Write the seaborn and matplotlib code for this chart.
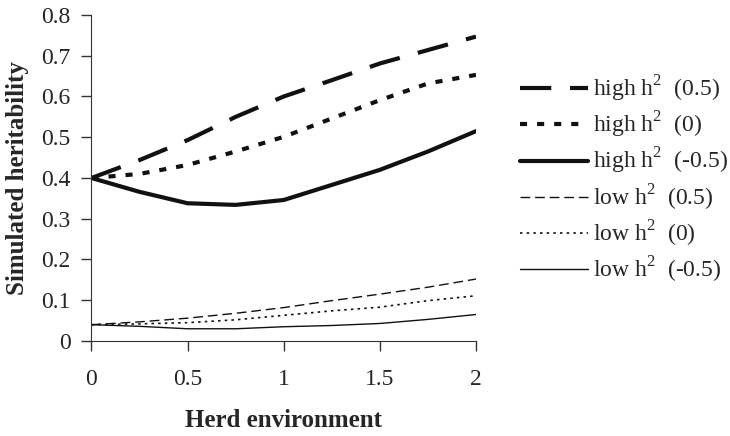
import pandas as pd
import matplotlib.pyplot as plt
import seaborn as sns

# herd environment (x) values
env = [0, 0.25, 0.5, 0.75, 1, 1.25, 1.5, 1.75, 2]

# simulated heritability
high_05 = [0.40, 0.444, 0.493, 0.550, 0.600, 0.640, 0.681, 0.714, 0.747]
high_0 = [0.40, 0.410, 0.432, 0.465, 0.501, 0.546, 0.591, 0.632, 0.653]
high_m05 = [0.40, 0.366, 0.338, 0.334, 0.346, 0.383, 0.420, 0.465, 0.515]
low_05 = [0.04, 0.047, 0.056, 0.068, 0.082, 0.099, 0.115, 0.132, 0.152]
low_0 = [0.04, 0.042, 0.045, 0.052, 0.063, 0.074, 0.083, 0.099, 0.111]
low_m05 = [0.04, 0.036, 0.030, 0.030, 0.035, 0.038, 0.043, 0.053, 0.065]

labels = ["high h$^2$  (0.5)", "high h$^2$  (0)", "high h$^2$  (-0.5)",
          "low h$^2$  (0.5)", "low h$^2$  (0)", "low h$^2$  (-0.5)"]

x_ticks = [0, 0.5, 1, 1.5, 2]
x_ticklabels = ["0", "0.5", "1", "1.5", "2"]
y_ticks = [0, 0.1, 0.2, 0.3, 0.4, 0.5, 0.6, 0.7, 0.8]
y_ticklabels = ["0", "0.1", "0.2", "0.3", "0.4", "0.5", "0.6", "0.7", "0.8"]


def main():
    sns.set_style("ticks")
    plt.rcParams['font.family'] = ['Liberation Serif', 'DejaVu Serif']
    plt.rcParams['mathtext.fontset'] = 'custom'
    plt.rcParams['mathtext.rm'] = 'Liberation Serif'

    series = [high_05, high_0, high_m05, low_05, low_0, low_m05]
    # (linewidth, linestyle)
    styles = [
        (3.0, (0, (7.5, 4.5))),
        (3.0, (0, (1.7, 2.4))),
        (3.0, "-"),
        (1.0, (0, (7, 3.5))),
        (1.2, (0, (1.5, 2.5))),
        (1.0, "-"),
    ]

    fig = plt.figure(figsize=(7.3, 4.36), dpi=100)
    ax = fig.add_axes([0.1253, 0.2179, 0.5267, 0.7477])

    for vals, lab, (lw, ls) in zip(series, labels, styles):
        df = pd.DataFrame({"env": env, "h2": vals})
        sns.lineplot(data=df, x="env", y="h2", ax=ax, color="#111111",
                     linewidth=lw, linestyle=ls, label=lab)

    ax.set_xlim(0, 2)
    ax.set_ylim(0, 0.8)
    ax.set_xticks(x_ticks)
    ax.set_xticklabels(x_ticklabels)
    ax.set_yticks(y_ticks)
    ax.set_yticklabels(y_ticklabels)
    ax.tick_params(labelsize=17, length=7, width=1, color="#333333")
    ax.tick_params(axis="x", pad=13)
    ax.tick_params(axis="y", pad=8)
    for s in ["top", "right"]:
        ax.spines[s].set_visible(False)
    for s in ["left", "bottom"]:
        ax.spines[s].set_color("#333333")

    ax.set_xlabel("Herd environment", fontsize=18, fontweight="bold", labelpad=14)
    ax.set_ylabel("Simulated heritability", fontsize=18, fontweight="bold", labelpad=9)

    ax.legend(frameon=False, loc="upper left", bbox_to_anchor=(1.114, 0.82),
              fontsize=17, handlelength=2.9, handletextpad=0.2, labelspacing=0.25,
              borderaxespad=0, borderpad=0)

    plt.savefig("out.png", dpi=100)


if __name__ == "__main__":
    main()
